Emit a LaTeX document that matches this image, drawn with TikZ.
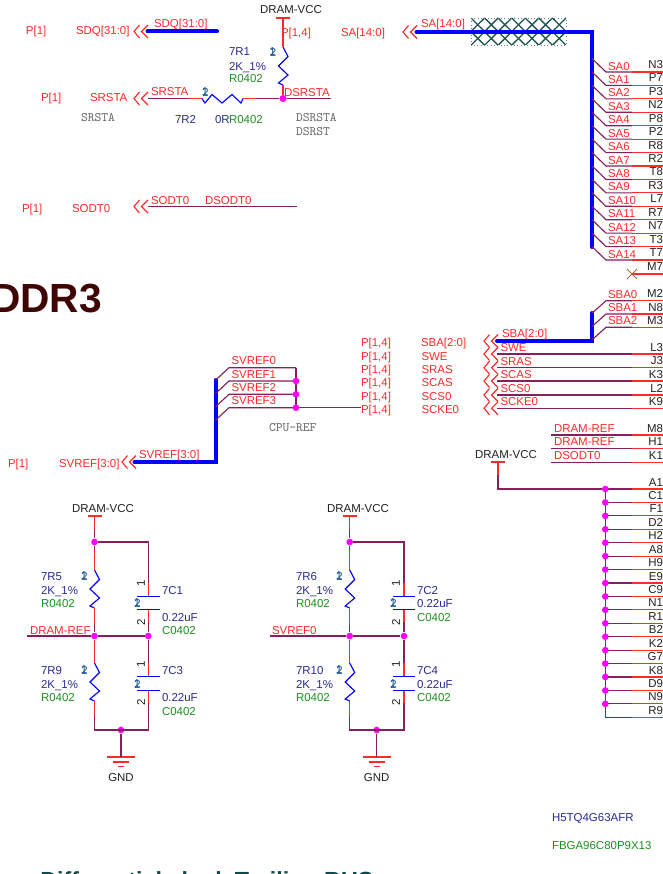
\documentclass[tikz,border=0pt]{standalone}
\usepackage{fontspec}
\setmainfont{Liberation Sans}
\definecolor{wirec}{HTML}{85205F}
\definecolor{redc}{HTML}{FF2A2A}
\definecolor{bluet}{HTML}{2B2B8F}
\definecolor{greent}{HTML}{1F8F1F}
\definecolor{pinc}{HTML}{1F5A8C}
\definecolor{tealc}{HTML}{1F5550}
\definecolor{blackt}{HTML}{222222}
\definecolor{jctc}{HTML}{FF00FF}
\definecolor{monoc}{HTML}{666666}
\definecolor{titlec}{HTML}{3F0505}
\definecolor{subc}{HTML}{0F4A4A}
\newcommand\tl[5]{\node[txt,text=#1] (#2) at (#3,#4+4) {#5};}
\newcommand\tr[5]{\node[txt,anchor=base east,text=#1] (#2) at (#3,#4+4) {#5};}
\newcommand\tc[5]{\node[txt,anchor=base,text=#1] (#2) at (#3,#4+4) {#5};}
\newcommand\tm[4]{\node[txt,text=monoc,font=\ttfamily\fontsize{9.7pt}{10pt}\selectfont] (#1) at (#2,#3+3) {#4};}
\newcommand\chev[3]{\coordinate (#1) at (#2,#3);
  \draw[chv] (#2+5.5,#3-6.5) -- (#2,#3) -- (#2+5.5,#3+6.5);
  \draw[chv] (#2+14,#3-6.5) -- (#2+7.5,#3) -- (#2+14,#3+6.5);}
\newcommand\rv[3]{\coordinate (#1a) at (#2,#3); \coordinate (#1b) at (#2,#3+38);
  \draw[res] (#1a) -- ++(5,9.5) -- ++(-9.5,9.5) -- ++(9.5,9) -- ++(-9.5,8) -- (#1b);}
\newcommand\pinov[3]{\node[txt,anchor=center,text=pinc] (#1o) at (#2,#3) {1};\node[txt,anchor=center,text=pinc] (#1t) at (#2+.6,#3) {2};}
\newcommand\capv[4]{\node[cplate] (#1p) at (#2,#3) {};\node[cplate] (#1q) at (#2,#4) {};}
\newcommand\gnd[3]{\coordinate (#1) at (#2,#3);
  \draw[gndl] (#2-14,#3)--(#2+14,#3);\draw[gndl] (#2-8,#3+5)--(#2+8,#3+5);\draw[gndl] (#2-3,#3+9.5)--(#2+3,#3+9.5);
  \tc{blackt}{#1t}{#2}{#3+20}{GND}}
\newcommand\rotl[4]{\node[txt,anchor=center,rotate=90,text=blackt] (#1) at (#2,#3) {#4};}
\newcommand\divider[7]{%
  \node[dot] (#1jt) at (#2,542) {};
  \node[dot] (#1jm) at (#2,636) {};
  \node[dot] (#1jr) at (#3,636) {};
  \node[dot] (#1jg) at (#4,730) {};
  \coordinate (#1bl) at (#2,730); \coordinate (#1br) at (#3,730); \coordinate (#1tr) at (#3,542);
  \rv{#1ra}{#2}{570}\rv{#1rb}{#2}{663}
  \capv{#1ca}{#3}{596.7}{609.3}\capv{#1cb}{#3}{676.7}{690.3}
  \draw[wr] (#1jt) -- (#1tr) -- (#3,583);
  \draw[rd] (#3,583) -- (#1cap);
  \draw[rd] (#1caq) -- (#3,622);
  \draw[wr] (#3,622) -- (#1jr) -- (#3,663);
  \draw[rd] (#3,663) -- (#1cbp);
  \draw[rd] (#1cbq) -- (#3,703);
  \draw[wr] (#3,703) -- (#1br) -- (#1bl) -- (#2,717);
  \draw[wr] (#1jt) -- (#2,550);
  \draw[rd] (#2,550) -- (#1raa);
  \draw[rd] (#1rab) -- (#2,625);
  \draw[wr] (#2,625) -- (#1jm) -- (#2,640);
  \draw[rd] (#2,640) -- (#1rba);
  \draw[rd] (#1rbb) -- (#2,717);
  \gnd{#1g}{#4}{757}
  \draw[wr] (#1jg) -- (#1g);
  \rotl{#1a1}{#5}{583}{1}\rotl{#1a2}{#5}{622}{2}\rotl{#1b1}{#5}{664}{1}\rotl{#1b2}{#5}{702}{2}
  \pinov{#1pa}{#6}{603}\pinov{#1pb}{#6}{684}
  \pinov{#1pc}{#7}{576}\pinov{#1pd}{#7}{670}
}
\tikzset{
  x=0.75pt,y=-0.75pt,
  txt/.style={inner sep=0pt,outer sep=0pt,anchor=base west,font=\fontsize{8.6pt}{10pt}\selectfont},
  wr/.style={draw=wirec,line width=0.85pt},
  rd/.style={draw=redc,line width=0.85pt},
  res/.style={draw=blue,line width=0.85pt},
  bus/.style={draw=blue,line width=3pt,line cap=round,line join=miter},
  chv/.style={draw=redc,line width=0.85pt},
  gndl/.style={draw=redc,line width=0.85pt},
  dot/.style={circle,fill=jctc,draw=none,inner sep=0pt,minimum size=5pt},
  bar/.style={rectangle,fill=redc,draw=none,inner sep=0pt,minimum width=10.5pt,minimum height=0.85pt},
  cplate/.style={rectangle,fill=blue,draw=none,inner sep=0pt,minimum width=17pt,minimum height=0.9pt},
}
\begin{document}
\begin{tikzpicture}
\useasboundingbox (0,0) rectangle (663,874);
\clip (0,0) rectangle (663,874);
\fill[white] (0,0) rectangle (663,874);

% ---- titles
\node[inner sep=0pt,anchor=base east,text=titlec,font=\bfseries\fontsize{30.5pt}{32pt}\selectfont] (title) at (102,312.5) {DDR3};
\node[inner sep=0pt,anchor=base west,text=subc,font=\bfseries\fontsize{17.5pt}{20pt}\selectfont] (subtitle) at (40,888) {Differential clock Trailing BUS};

% ---- SDQ
\tl{redc}{p1}{26}{31}{P[1]}
\tl{redc}{sdqt}{76}{31}{SDQ[31:0]}
\chev{sdqc}{134}{31.5}
\coordinate (sdqe) at (217,31.5);
\coordinate (sdqs) at (147.5,31.5);
\draw[bus] (sdqs) -- (sdqe);
\tl{redc}{sdql}{154}{24}{SDQ[31:0]}

% ---- SRSTA with pull-up
\tc{blackt}{vcctop}{291}{10}{DRAM-VCC}
\node[bar] (vcc0) at (283,18) {};
\tl{redc}{p14top}{281}{33}{P[1,4]}
\rv{r1}{283}{47}
\node[dot] (jsr) at (283,98.5) {};
\draw[rd] (vcc0) -- (r1a);
\draw[rd] (r1b) -- (jsr);
\tl{bluet}{r1n}{229}{52}{7R1}
\tl{bluet}{r1v}{229}{66}{2K\_1\%}
\tl{greent}{r1p}{229}{79}{R0402}
\pinov{r1pin}{272.5}{52}

\tl{redc}{p2}{41}{98}{P[1]}
\tl{redc}{srt}{90}{98}{SRSTA}
\chev{src}{134}{98.5}
\coordinate (srs) at (148,98.5);
\coordinate (sr1) at (188,98.5);
\coordinate (sra) at (202,98.5);
\coordinate (srb) at (243,98.5);
\coordinate (sr2) at (256,98.5);
\coordinate (sre) at (331,98.5);
\draw[wr] (srs) -- (sr1);
\draw[rd] (sr1) -- (sra);
\draw[res] (sra) -- ++(3,4.5) -- ++(7,-8.5) -- ++(10,8.5) -- ++(10,-8.5) -- ++(9,8.5) -- (srb);
\draw[rd] (srb) -- (sr2);
\draw[wr] (sr2) -- (jsr) -- (sre);
\node[dot] (jsr2) at (jsr) {};
\tl{redc}{srl}{151}{91}{SRSTA}
\tl{redc}{dsrl}{284}{92}{DSRSTA}
\pinov{r2pin}{205}{92}
\tl{bluet}{r2n}{175}{119}{7R2}
\tl{bluet}{r2v}{215}{119}{0R}
\tl{greent}{r2p}{229}{119}{R0402}
\tm{m1}{81}{119}{SRSTA}
\tm{m2}{296}{119}{DSRSTA}
\tm{m3}{296}{132}{DSRST}

% ---- SODT0
\tl{redc}{p3}{22}{208}{P[1]}
\tl{redc}{sot}{72}{208}{SODT0}
\chev{soc}{134}{206.5}
\coordinate (sos) at (148,206.5);
\coordinate (soe) at (297,206.5);
\draw[wr] (sos) -- (soe);
\tl{redc}{sol}{151}{200}{SODT0}
\tl{redc}{dsol}{205}{200}{DSODT0}

% ---- SA bus
\tl{redc}{sat}{341}{33}{SA[14:0]}
\chev{sac}{403}{32}
\tl{redc}{sal}{421}{24}{SA[14:0]}
% hatched box
\begin{scope}
\clip (471,18) rectangle (566,45);
\foreach \k in {0,...,6}{
  \foreach \r in {18,31.7}{
    \draw[tealc,line width=1pt] (471+13.57*\k,\r) -- (471+13.57*\k+13.57,\r+13.5);
    \draw[tealc,line width=1pt] (471+13.57*\k,\r+13.5) -- (471+13.57*\k+13.57,\r);
  }
}
\end{scope}
\draw[tealc!70!white,line width=0.5pt,dotted] (471,18) rectangle (566,45);
\coordinate (sas) at (416.5,32);
\coordinate (sak) at (592,32);
\coordinate (sae) at (592,247);
\draw[bus] (sas) -- (sak) -- (sae);

\foreach \i/\lab/\pin in {0/SA0/N3,1/SA1/P7,2/SA2/P3,3/SA3/N2,4/SA4/P8,5/SA5/P2,6/SA6/R8,7/SA7/R2,8/SA8/T8,9/SA9/R3,10/SA10/L7,11/SA11/R7,12/SA12/N7,13/SA13/T3,14/SA14/T7}{
  \pgfmathsetmacro\yy{72+13.43*\i}
  \coordinate (sa\i b) at (592,\yy-13.5);
  \coordinate (sa\i c) at (606,\yy);
  \coordinate (sa\i d) at (632,\yy);
  \coordinate (sa\i e) at (663,\yy);
  \draw[wr] (sa\i b) -- (sa\i c) -- (sa\i d);
  \draw[rd] (sa\i d) -- (sa\i e);
  \tl{redc}{sal\i}{608}{\yy-6}{\lab}
  \tr{blackt}{sap\i}{663}{\yy-7.5}{\pin}
}
% M7
\coordinate (m7a) at (632,274);
\coordinate (m7b) at (663,274);
\draw[rd] (m7a) -- (m7b);
\draw[draw=brown!85!black,line width=0.7pt] (627,269) -- (637,279) (627,279) -- (637,269);
\tr{blackt}{m7p}{663}{266.5}{M7}

% ---- SBA
\tl{redc}{sbaT}{421}{342.5}{SBA[2:0]}
\chev{sbac}{484}{341}
\coordinate (sbs) at (497,341);
\coordinate (sbk) at (592,341);
\coordinate (sbe) at (592,313);
\draw[bus] (sbs) -- (sbk) -- (sbe);
\tl{redc}{sbal}{502}{333}{SBA[2:0]}
\foreach \i/\lab/\pin/\yy in {0/SBA0/M2/300.7,1/SBA1/N8/314,2/SBA2/M3/327.3}{
  \coordinate (sb\i b) at (592,\yy+12.5);
  \coordinate (sb\i c) at (606,\yy);
  \coordinate (sb\i d) at (632,\yy);
  \coordinate (sb\i e) at (663,\yy);
  \draw[wr] (sb\i b) -- (sb\i c) -- (sb\i d);
  \draw[rd] (sb\i d) -- (sb\i e);
  \tl{redc}{sbl\i}{608}{\yy-6.5}{\lab}
  \tr{blackt}{sbp\i}{663}{\yy-7}{\pin}
}
\tl{redc}{p14a}{361}{342.5}{P[1,4]}
\foreach \i/\lab/\pin/\yy/\ty in {1/SWE/L3/354/356,2/SRAS/J3/367.7/369,3/SCAS/K3/381/382.5,4/SCS0/L2/395/396,5/SCKE0/K9/408.3/409.5}{
  \chev{ctl\i c}{484}{\yy}
  \coordinate (ctl\i s) at (497,\yy);
  \coordinate (ctl\i d) at (632,\yy);
  \coordinate (ctl\i e) at (663,\yy);
  \draw[wr] (ctl\i s) -- (ctl\i d);
  \draw[rd] (ctl\i d) -- (ctl\i e);
  \tl{redc}{ctl\i l}{500.5}{\yy-6.5}{\lab}
  \tl{redc}{ctl\i t}{421.5}{\ty}{\lab}
  \tl{redc}{ctl\i p}{361}{\ty}{P[1,4]}
  \tr{blackt}{ctl\i n}{663}{\yy-7}{\pin}
}

% ---- SVREF
\tl{redc}{p4}{8}{463}{P[1]}
\tl{redc}{svt}{59}{463}{SVREF[3:0]}
\chev{svc}{122}{462}
\coordinate (svs) at (134.5,462);
\coordinate (svk) at (215.5,462);
\coordinate (sve) at (215.5,380);
\draw[bus] (svs) -- (svk) -- (sve);
\tl{redc}{svl}{139}{454}{SVREF[3:0]}
\foreach \i/\yy in {0/367.7,1/381,2/394.3,3/407.7}{
  \coordinate (sv\i b) at (215.5,\yy+12.5);
  \coordinate (sv\i c) at (229,\yy);
  \coordinate (sv\i d) at (296,\yy);
  \draw[wr] (sv\i b) -- (sv\i c) -- (sv\i d);
  \tl{redc}{svr\i}{231.5}{\yy-7}{SVREF\i}
}
\coordinate (cpue) at (361,407.7);
\draw[wr] (sv0d) -- (sv1d) -- (sv2d) -- (sv3d) -- (cpue);
\node[dot] (jv1) at (sv1d) {};
\node[dot] (jv2) at (sv2d) {};
\node[dot] (jv3) at (sv3d) {};
\tm{cpuref}{269}{428}{CPU-REF}

% ---- REF rows
\foreach \i/\lab/\pin/\yy in {0/DRAM-REF/M8/435,1/DRAM-REF/H1/448.3,2/DSODT0/K1/462.3}{
  \coordinate (rf\i s) at (551,\yy);
  \coordinate (rf\i d) at (632,\yy);
  \coordinate (rf\i e) at (663,\yy);
  \draw[wr] (rf\i s) -- (rf\i d);
  \draw[rd] (rf\i d) -- (rf\i e);
  \tl{redc}{rf\i l}{554}{\yy-7}{\lab}
  \tr{blackt}{rf\i n}{663}{\yy-7}{\pin}
}

% ---- power rail
\tc{blackt}{vccr}{506}{454}{DRAM-VCC}
\node[bar] (vccR) at (498,462) {};
\coordinate (vr1) at (498,475);
\coordinate (vr2) at (498,489);
\draw[rd] (vccR) -- (vr1);
\coordinate (railtop) at (605.3,489);
\coordinate (railbot) at (605.3,717.3);
\draw[wr] (vr1) -- (vr2) -- (railtop);
\draw[wr] (railtop) -- (railbot);
\foreach \i/\pin in {0/A1,1/C1,2/F1,3/D2,4/H2,5/A8,6/H9,7/E9,8/C9,9/N1,10/R1,11/B2,12/K2,13/G7,14/K8,15/D9,16/N9,17/R9}{
  \pgfmathsetmacro\yy{489+13.43*\i}
  \coordinate (pw\i a) at (605.3,\yy);
  \coordinate (pw\i d) at (632,\yy);
  \coordinate (pw\i e) at (663,\yy);
  \draw[wr] (pw\i a) -- (pw\i d);
  \draw[rd] (pw\i d) -- (pw\i e);
  \tr{blackt}{pw\i n}{663}{\yy-7}{\pin}
  \ifnum\i<17 \node[dot] (pw\i j) at (pw\i a) {};\fi
}

% ---- left divider
\node[bar] (vccA) at (94.5,516) {};
\tc{blackt}{vccAt}{103}{508}{DRAM-VCC}
\divider{A}{94.5}{148.3}{121}{141}{137}{84}
\coordinate (vA1) at (94.5,530);
\draw[rd] (vccA) -- (vA1);
\draw[wr] (vA1) -- (Ajt);
\coordinate (arefs) at (27,636);
\draw[wr] (arefs) -- (Ajm) -- (Ajr);
\tl{redc}{arefl}{30}{630}{DRAM-REF}
\tl{bluet}{a1}{41}{576}{7R5}\tl{bluet}{a2}{41}{590}{2K\_1\%}\tl{greent}{a3}{41}{603}{R0402}
\tl{bluet}{a4}{41}{670}{7R9}\tl{bluet}{a5}{41}{684}{2K\_1\%}\tl{greent}{a6}{41}{697}{R0402}
\tl{bluet}{a7}{162}{590}{7C1}\tl{bluet}{a8}{162}{617}{0.22uF}\tl{greent}{a9}{162}{630}{C0402}
\tl{bluet}{a10}{162}{670}{7C3}\tl{bluet}{a11}{162}{697}{0.22uF}\tl{greent}{a12}{162}{711}{C0402}

% ---- right divider
\node[bar] (vccB) at (349.7,516) {};
\tc{blackt}{vccBt}{358}{508}{DRAM-VCC}
\divider{B}{349.7}{404}{376.7}{396}{393}{339}
\coordinate (vB1) at (349.7,530);
\draw[rd] (vccB) -- (vB1);
\draw[wr] (vB1) -- (Bjt);
\coordinate (brefs) at (270,636);
\draw[wr] (brefs) -- (Bjm) -- (Bjr);
\tl{redc}{brefl}{272}{630}{SVREF0}
\tl{bluet}{b1}{296}{576}{7R6}\tl{bluet}{b2}{296}{590}{2K\_1\%}\tl{greent}{b3}{296}{603}{R0402}
\tl{bluet}{b4}{296}{670}{7R10}\tl{bluet}{b5}{296}{684}{2K\_1\%}\tl{greent}{b6}{296}{697}{R0402}
\tl{bluet}{b7}{417}{590}{7C2}\tl{bluet}{b8}{417}{603}{0.22uF}\tl{greent}{b9}{417}{617}{C0402}
\tl{bluet}{b10}{417}{670}{7C4}\tl{bluet}{b11}{417}{684}{0.22uF}\tl{greent}{b12}{417}{697}{C0402}

% ---- part info
\node[txt,text=bluet] (part) at (552,821) {H5TQ4G63AFR};
\node[txt,text=greent] (pkg) at (552,849) {FBGA96C80P9X13};
\end{tikzpicture}
\end{document}
